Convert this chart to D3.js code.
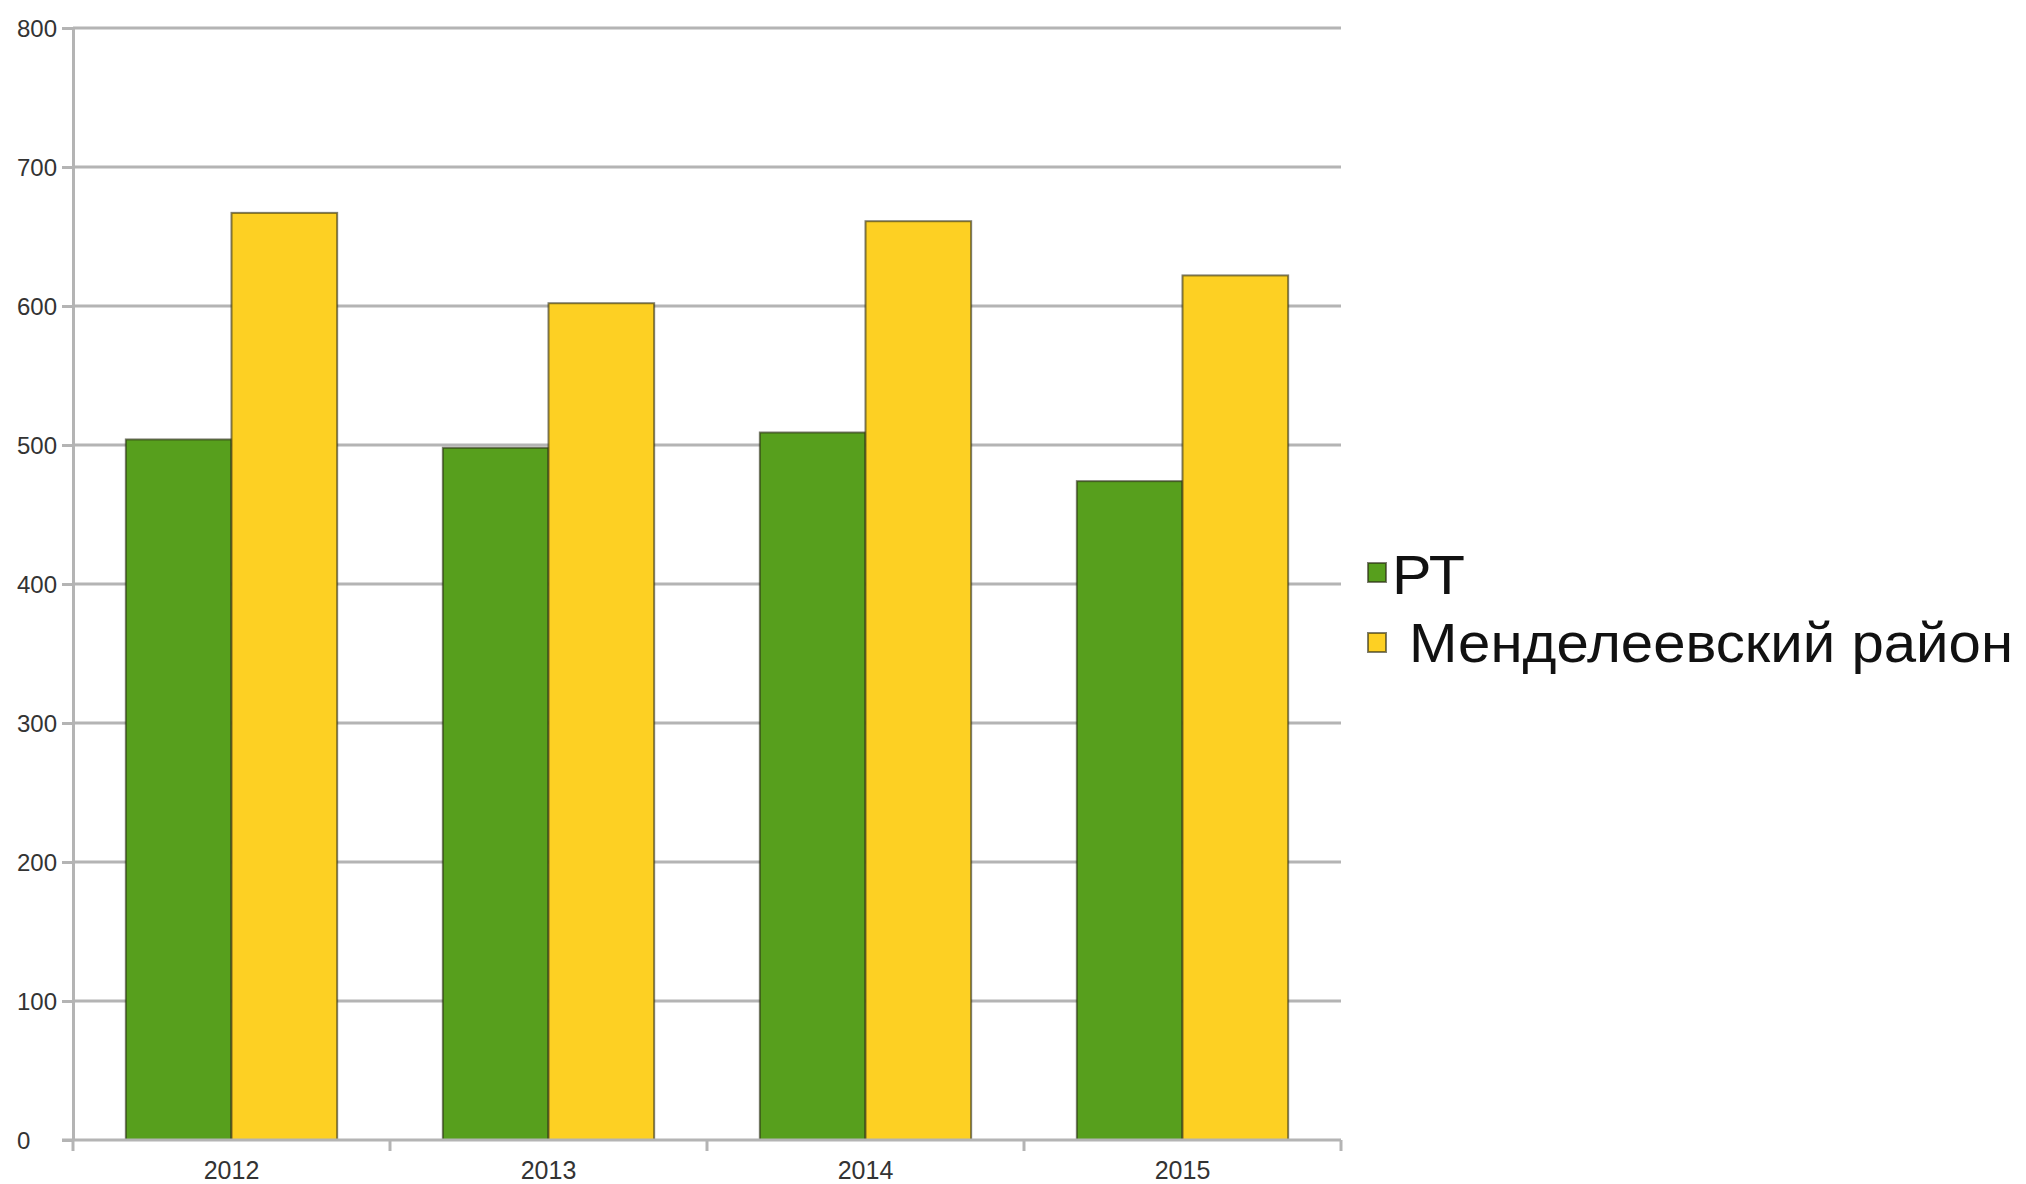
<!DOCTYPE html>
<html>
<head>
<meta charset="utf-8">
<script src="https://cdn.jsdelivr.net/npm/d3@7/dist/d3.min.js"></script>
<style>
  html, body { margin: 0; padding: 0; background: #fff; }
  svg { display: block; }
</style>
</head>
<body>
<svg id="chart" width="2026" height="1184"></svg>
<script>
const categories = ["2012", "2013", "2014", "2015"];
const seriesNames = ["РТ", "Менделеевский район"];
const valuesRT = [504, 498, 509, 474];
const valuesMend = [667, 602, 661, 622];
const yTicks = [0, 100, 200, 300, 400, 500, 600, 700, 800];
const colors = ["#579f1d", "#fdd023"];

const svg = d3.select("#chart");
const plotLeft = 73, plotRight = 1341, plotTop = 28, plotBottom = 1140;

const x = d3.scaleBand().domain(categories).range([plotLeft, plotRight]).paddingInner(0).paddingOuter(0);
const bw = x.bandwidth();
const x1 = d3.scaleBand().domain(seriesNames).range([bw / 6, bw * 5 / 6]).padding(0);
const y = d3.scaleLinear().domain([0, 800]).range([plotBottom, plotTop]);

const gridColor = "#b4b4b4";

// gridlines
svg.append("g").selectAll("line").data(yTicks.filter(d => d > 0)).join("line")
  .attr("x1", plotLeft).attr("x2", plotRight)
  .attr("y1", d => y(d)).attr("y2", d => y(d))
  .attr("stroke", gridColor).attr("stroke-width", 3);

// y axis
const yAxis = svg.append("g").attr("transform", `translate(${plotLeft},0)`)
  .call(d3.axisLeft(y).tickValues(yTicks).tickSize(11).tickSizeOuter(0).tickFormat(d3.format("d")));
yAxis.select(".domain").attr("stroke", gridColor).attr("stroke-width", 3);
yAxis.selectAll(".tick line").attr("stroke", gridColor).attr("stroke-width", 3);
yAxis.selectAll(".tick text")
  .attr("x", 17 - plotLeft).attr("text-anchor", "start").attr("dy", "0.35em")
  .attr("font-family", "Liberation Sans, Arial, sans-serif").attr("font-size", 24).attr("fill", "#333");

// bars
const data = categories.map((c, i) => ({ cat: c, vals: [valuesRT[i], valuesMend[i]] }));
const groups = svg.append("g").selectAll("g").data(data).join("g")
  .attr("transform", d => `translate(${x(d.cat)},0)`);
groups.selectAll("rect").data(d => d.vals.map((v, j) => ({ name: seriesNames[j], v, j }))).join("rect")
  .attr("x", d => x1(d.name))
  .attr("width", x1.bandwidth())
  .attr("y", d => y(d.v))
  .attr("height", d => y(0) - y(d.v))
  .attr("fill", d => colors[d.j])
  .attr("stroke", "rgba(40,40,20,0.6)")
  .attr("stroke-width", 2);

// x axis
const xAxis = svg.append("g").attr("transform", `translate(0,${plotBottom})`)
  .call(d3.axisBottom(x).tickSize(0).tickSizeOuter(0));
xAxis.select(".domain").remove();
svg.append("line").attr("x1", plotLeft - 11).attr("x2", plotRight).attr("y1", plotBottom).attr("y2", plotBottom)
  .attr("stroke", gridColor).attr("stroke-width", 3);
const bounds = categories.map(c => x(c)).concat([x(categories[categories.length - 1]) + bw]);
svg.append("g").selectAll("line").data(bounds).join("line")
  .attr("x1", d => d).attr("x2", d => d).attr("y1", plotBottom).attr("y2", plotBottom + 11)
  .attr("stroke", gridColor).attr("stroke-width", 3);
xAxis.selectAll(".tick text")
  .attr("y", 39).attr("dy", 0)
  .attr("font-family", "Liberation Sans, Arial, sans-serif").attr("font-size", 25).attr("fill", "#333");

// legend
const legend = svg.append("g");
const legendItems = [
  { name: seriesNames[0], color: colors[0], sy: 563, tx: 1392, ty: 594, len: 73 },
  { name: seriesNames[1], color: colors[1], sy: 633, tx: 1409, ty: 662, len: 604 }
];
legendItems.forEach(it => {
  legend.append("rect").attr("x", 1368).attr("y", it.sy).attr("width", 18).attr("height", 19)
    .attr("fill", it.color).attr("stroke", "rgba(40,40,20,0.6)").attr("stroke-width", 2);
  legend.append("text").attr("x", it.tx).attr("y", it.ty).text(it.name)
    .attr("textLength", it.len).attr("lengthAdjust", "spacingAndGlyphs")
    .attr("font-family", "Liberation Sans, Arial, sans-serif").attr("font-size", 56).attr("fill", "#111");
});
</script>
</body>
</html>
